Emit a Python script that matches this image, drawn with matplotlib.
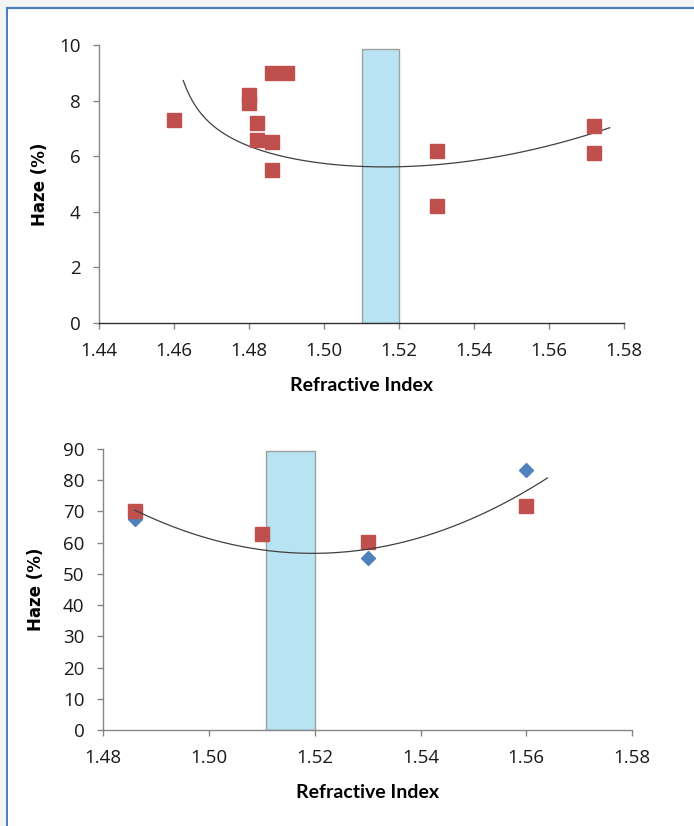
import numpy as np
import matplotlib
matplotlib.use("Agg")
import matplotlib.pyplot as plt
from matplotlib.patches import Rectangle
from matplotlib.lines import Line2D
from matplotlib.ticker import FormatStrFormatter

# ---- data: top chart ----
top_ri = [1.46, 1.48, 1.48, 1.482, 1.482, 1.486, 1.49, 1.486, 1.486, 1.53, 1.53, 1.572, 1.572]
top_haze = [7.3, 8.2, 7.9, 7.2, 6.6, 9.0, 9.0, 6.5, 5.5, 6.2, 4.2, 7.1, 6.1]
top_band = (1.51, 1.52, 9.87)
# trend line
top_trend_x = [1.4624, 1.4651, 1.4695, 1.4740, 1.4802, 1.4873, 1.4962, 1.5095,
               1.5184, 1.5353, 1.5531, 1.5664, 1.5762]
top_trend_y = [8.74, 7.90, 7.19, 6.76, 6.37, 6.04, 5.80, 5.65,
               5.62, 5.74, 6.16, 6.64, 7.01]

# ---- data: bottom chart ----
bot_ri_blue = [1.486, 1.53, 1.56]
bot_haze_blue = [67.6, 55.0, 83.3]
bot_ri_red = [1.486, 1.51, 1.53, 1.56]
bot_haze_red = [70.2, 62.8, 60.1, 71.8]
bot_band = (1.5108, 1.52, 89.5)
bot_trend_x = [1.4860, 1.4907, 1.4970, 1.5033, 1.5109, 1.5191, 1.5298,
               1.5380, 1.5475, 1.5544, 1.5601, 1.5640]
bot_trend_y = [71.5, 66.2, 61.9, 59.3, 57.7, 57.2, 58.6,
               60.9, 65.4, 71.0, 76.3, 81.4]

red = "#C0504D"
blue = "#4F81BD"
band_fill = "#B7E3F2"
axis_grey = "#868686"


def basis(x, pole):
    x = np.asarray(x)
    u = x - 1.52
    cols = [np.ones_like(x), u, u ** 2]
    if pole is not None:
        cols.append(1.0 / (x - pole))
    return np.column_stack(cols)


def smooth_trend(xs, ys, pole=None):
    # least-squares smooth curve through the read trend points
    coef, *_ = np.linalg.lstsq(basis(xs, pole), np.asarray(ys), rcond=None)
    xx = np.linspace(xs[0], xs[-1], 300)
    return xx, basis(xx, pole) @ coef


fig = plt.figure(figsize=(6.94, 8.26), dpi=100)
W, H = 694, 826

# page frame (grey strip + blue rule on top/left)
fig.patches.append(Rectangle((0, 0), 1, 1, transform=fig.transFigure, facecolor="#F4F4F4", edgecolor="none", zorder=-10))
fig.patches.append(Rectangle((7 / W, 0), 1, 1 - 8 / H, transform=fig.transFigure, facecolor="white", edgecolor="none", zorder=-9))
fig.add_artist(Line2D([7 / W, 1], [1 - 7.5 / H, 1 - 7.5 / H], transform=fig.transFigure, color="#4A7EBB", lw=1.6))
fig.add_artist(Line2D([6.5 / W, 6.5 / W], [0, 1 - 7.5 / H], transform=fig.transFigure, color="#4A7EBB", lw=1.4))


def style_axes(ax):
    for s in ["top", "right"]:
        ax.spines[s].set_visible(False)
    for s in ["left", "bottom"]:
        ax.spines[s].set_color(axis_grey)
        ax.spines[s].set_linewidth(1.0)
    ax.tick_params(direction="out", length=4.5, width=1, color=axis_grey,
                   labelsize=13.5, labelcolor="#1a1a1a")
    ax.tick_params(axis="x", pad=9.5)
    ax.tick_params(axis="y", pad=9)
    for lab in ax.get_xticklabels() + ax.get_yticklabels():
        lab.set_fontfamily("Open Sans")
    ax.set_facecolor("none")


# ---- top chart ----
ax1 = fig.add_axes([99.3 / W, 1 - 323 / H, (624 - 99.3) / W, (323 - 45) / H])
ax1.bar((top_band[0] + top_band[1]) / 2, top_band[2], width=top_band[1] - top_band[0],
        color=band_fill, edgecolor="#A0A0A0", linewidth=1.0, zorder=1)
ax1.plot(top_ri, top_haze, "s", color=red, markersize=9.8, zorder=3)
tx, ty = smooth_trend(top_trend_x, top_trend_y, pole=1.4546)
ax1.plot(tx, ty, color="#404040", lw=0.9, zorder=2)
ax1.set_xlim(1.44, 1.58)
ax1.set_ylim(0, 10)
ax1.set_xticks(np.arange(1.44, 1.581, 0.02))
ax1.set_yticks(range(0, 11, 2))
ax1.xaxis.set_major_formatter(FormatStrFormatter("%.2f"))
style_axes(ax1)
ax1.spines["bottom"].set_color("#303030")
ax1.set_xlabel("Refractive Index", fontsize=14, fontweight="bold", family="Lato", labelpad=12)
ax1.set_ylabel("Haze (%)", fontsize=12, fontweight="bold", family="DejaVu Sans", labelpad=7)

# ---- bottom chart ----
ax2 = fig.add_axes([103.3 / W, 1 - 730 / H, (632 - 103.3) / W, (730 - 449) / H])
ax2.bar((bot_band[0] + bot_band[1]) / 2, bot_band[2], width=bot_band[1] - bot_band[0],
        color=band_fill, edgecolor="#A0A0A0", linewidth=1.0, zorder=1)
ax2.plot(bot_ri_blue, bot_haze_blue, "D", color=blue, markersize=7.5, zorder=3)
ax2.plot(bot_ri_red, bot_haze_red, "s", color=red, markersize=9.8, zorder=4)
bx, by = smooth_trend(bot_trend_x, bot_trend_y)
ax2.plot(bx, by, color="#404040", lw=0.9, zorder=5)
ax2.set_xlim(1.48, 1.58)
ax2.set_ylim(0, 90)
ax2.set_xticks(np.arange(1.48, 1.581, 0.02))
ax2.set_yticks(range(0, 91, 10))
ax2.xaxis.set_major_formatter(FormatStrFormatter("%.2f"))
style_axes(ax2)
ax2.set_xlabel("Refractive Index", fontsize=14, fontweight="bold", family="Lato", labelpad=12)
ax2.set_ylabel("Haze (%)", fontsize=12, fontweight="bold", family="DejaVu Sans", labelpad=13)

fig.savefig("out.png", dpi=100)
